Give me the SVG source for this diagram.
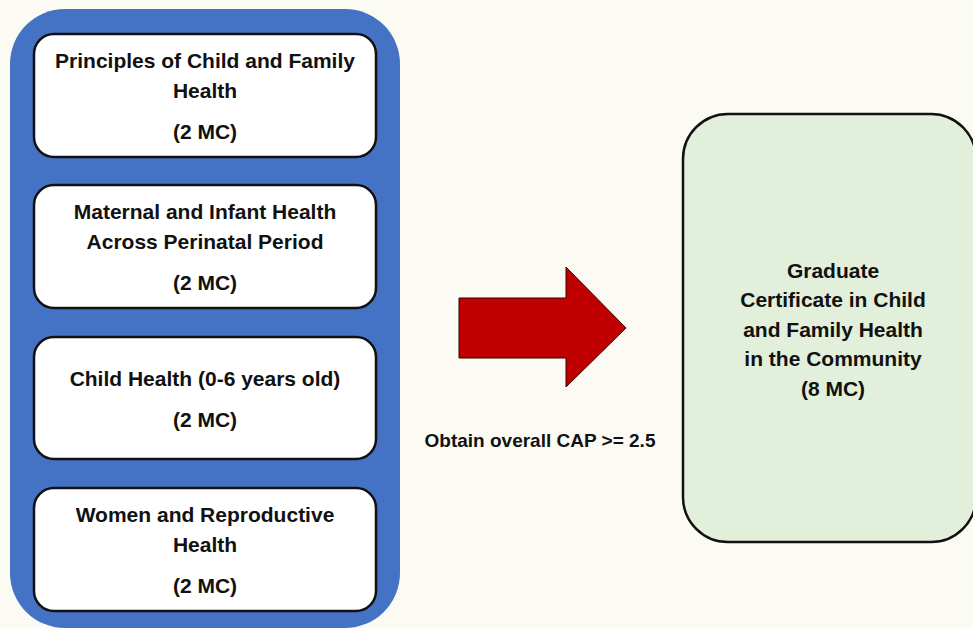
<svg xmlns="http://www.w3.org/2000/svg" width="973" height="628" viewBox="0 0 973 628">
<style>
text{font-family:"Liberation Sans",Arial,sans-serif;font-weight:bold;font-size:21px;fill:#111;text-anchor:middle}
.course{fill:#fff;stroke:#111;stroke-width:2.5}
</style>
<rect x="0" y="0" width="973" height="628" fill="#FBFBF3"/>
<g id="container">
<rect x="10" y="9" width="390" height="619" rx="55" fill="#4472C4"/>
</g>
<g id="course1">
<rect class="course" x="34" y="34" width="342" height="123" rx="20"/>
<text x="205" y="68">Principles of Child and Family</text>
<text x="205" y="98">Health</text>
<text x="205" y="139">(2 MC)</text>
</g>
<g id="course2">
<rect class="course" x="34" y="185" width="342" height="123" rx="20"/>
<text x="205" y="219">Maternal and Infant Health</text>
<text x="205" y="249">Across Perinatal Period</text>
<text x="205" y="290">(2 MC)</text>
</g>
<g id="course3">
<rect class="course" x="34" y="337" width="342" height="122" rx="20"/>
<text x="205" y="386">Child Health (0-6 years old)</text>
<text x="205" y="427">(2 MC)</text>
</g>
<g id="course4">
<rect class="course" x="34" y="488" width="342" height="123" rx="20"/>
<text x="205" y="522">Women and Reproductive</text>
<text x="205" y="552">Health</text>
<text x="205" y="593">(2 MC)</text>
</g>
<g id="connectors">
<polygon points="459,298 566,298 566,267 626,328 566,387 566,358 459,358" fill="#C00000" stroke="#3a0000" stroke-width="1"/>
<text x="540" y="447" style="font-size:19px">Obtain overall CAP &gt;= 2.5</text>
</g>
<g id="certificate">
<rect x="683" y="114" width="293" height="428" rx="45" fill="#E2EFDA" stroke="#111" stroke-width="2.5"/>
<text x="833" y="278">Graduate</text>
<text x="833" y="307">Certificate in Child</text>
<text x="833" y="337">and Family Health</text>
<text x="833" y="366">in the Community</text>
<text x="833" y="396">(8 MC)</text>
</g>
</svg>
